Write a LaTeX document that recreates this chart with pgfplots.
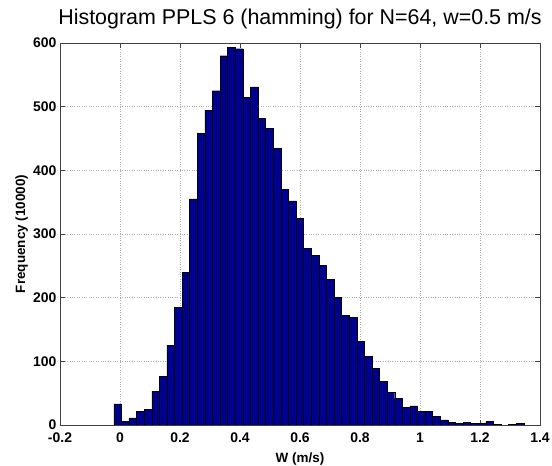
\documentclass[border=0pt]{standalone}
\usepackage{fontspec}
\setmainfont{Liberation Sans}
\usepackage{pgfplots}
\pgfplotsset{compat=1.18}
\definecolor{matblue}{rgb}{0,0,0.5625}
\begin{document}
\begin{tikzpicture}
\begin{axis}[
 width=480bp, height=382bp, scale only axis,
 xmin=-0.2, xmax=1.4, ymin=0, ymax=600,
 xtick={-0.2,0,0.2,0.4,0.6,0.8,1,1.2,1.4},
 xticklabels={-0.2,0,0.2,0.4,0.6,0.8,1,1.2,1.4},
 ytick={0,100,200,300,400,500,600},
 yticklabels={0,100,200,300,400,500,600},
 tick align=inside, major tick length=5bp,
 grid=major, grid style={dotted, gray!65, line width=0.6bp},
 axis line style={black!75, line width=0.6bp},
 tick style={black!75, line width=0.6bp},
 tick label style={font=\fontsize{14}{14}\selectfont\bfseries},
 xticklabel style={yshift=-4bp},
 label style={font=\fontsize{13.5}{14}\selectfont\bfseries},
 title={Histogram PPLS 6 (hamming) for N=64, w=0.5 m/s},
 title style={font=\fontsize{21.5}{24}\selectfont, at={(axis description cs:0.5,1.034)}, anchor=base},
 xlabel={W (m/s)}, ylabel={Frequency (10000)},
 xlabel style={at={(axis description cs:0.5,-0.0969)}, anchor=base},
 ylabel style={at={(axis description cs:-0.0729,0.5)}, anchor=base},
]
\addplot[ybar interval, fill=matblue, draw=black, line width=0.45bp] coordinates {
(-0.0207,33) (0.0046,6) (0.0299,11) (0.0552,21) (0.0805,25) (0.1059,53)
(0.1312,76) (0.1565,125) (0.1818,185) (0.2071,240) (0.2324,355) (0.2577,458)
(0.2830,494) (0.3083,525) (0.3336,580) (0.3590,593) (0.3843,591) (0.4096,515)
(0.4349,531) (0.4602,482) (0.4855,466) (0.5108,435) (0.5361,370) (0.5614,352)
(0.5867,324) (0.6121,278) (0.6374,266) (0.6627,251) (0.6880,229) (0.7133,200)
(0.7386,172) (0.7639,169) (0.7892,131) (0.8145,108) (0.8398,89) (0.8652,68)
(0.8905,51) (0.9158,42) (0.9411,28) (0.9664,30) (0.9917,21) (1.0170,21)
(1.0423,14) (1.0676,8) (1.0929,4) (1.1183,3) (1.1436,4) (1.1689,3)
(1.1942,3) (1.2195,6) (1.2448,1) (1.2701,0) (1.2954,1) (1.3207,3)
(1.3460,0)
};
\end{axis}
\pgfresetboundingbox
\useasboundingbox ([xshift=-60bp,yshift=-41bp]current axis.south west) rectangle ([xshift=12bp,yshift=43bp]current axis.north east);
\end{tikzpicture}
\end{document}
